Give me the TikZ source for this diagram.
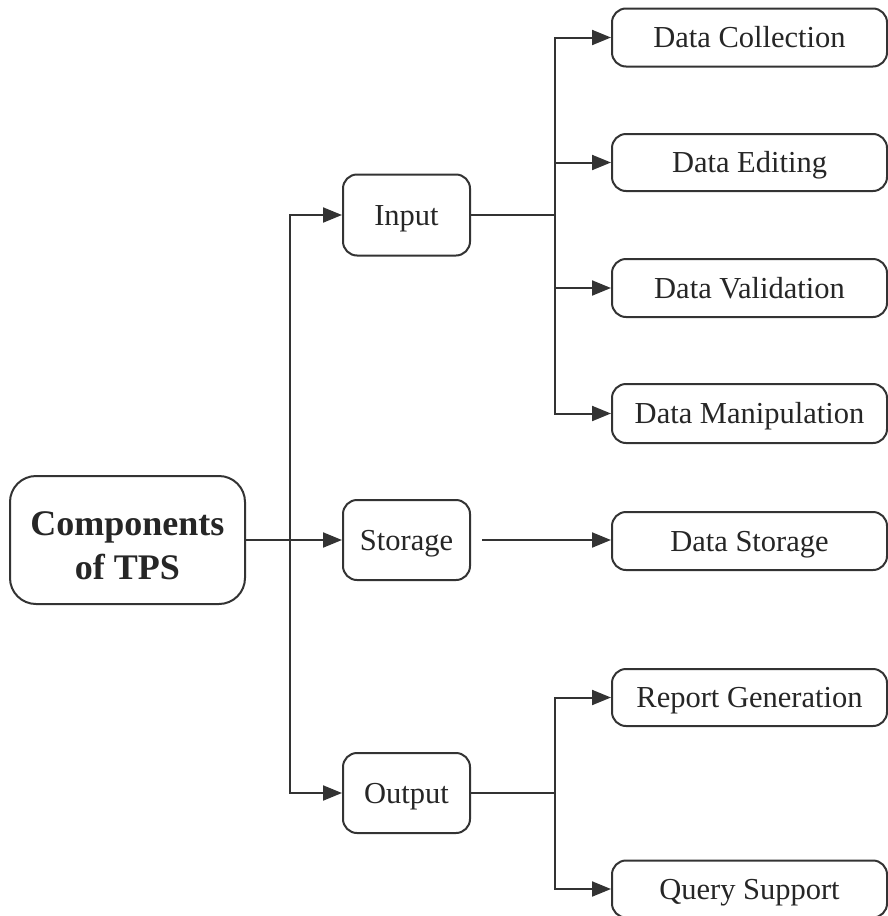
\documentclass[tikz,border=0pt]{standalone}
\usepackage{fontspec}
\setmainfont{Liberation Serif}
\usetikzlibrary{arrows.meta}
\begin{document}
\begin{tikzpicture}[x=1pt,y=-1pt,
  box/.style={draw=black!80, line width=2pt, rounded corners=14pt, fill=white,
    inner sep=0pt, font=\fontsize{30.5}{36}\selectfont, text=black!85,
    text height=20.3pt, text depth=0pt},
  mainbox/.style={box, rounded corners=26pt, font=\bfseries\fontsize{36}{44}\selectfont,
    align=center, text height=78pt, text depth=0pt},
  conn/.style={draw=black!80, line width=2pt},
  arr/.style={conn, -{Triangle[length=19pt,width=15pt]}}
]
\useasboundingbox (0,0) rectangle (888,916);
\begin{scope}
\clip (0,0) rectangle (888,916);
% main
\node[mainbox, minimum width=235pt, minimum height=128pt] (tps) at (127.5,540) {Components\\of TPS};
% middle
\node[box, minimum width=127pt, minimum height=81pt] (in) at (406.5,215) {Input};
\node[box, minimum width=127pt, minimum height=80pt] (st) at (406.5,540) {Storage};
\node[box, minimum width=127pt, minimum height=80pt] (out) at (406.5,793) {Output};
% right
\node[box, minimum width=275pt, minimum height=58pt] (dc) at (749.5,37.5) {Data Collection};
\node[box, minimum width=275pt, minimum height=57pt] (de) at (749.5,162.5) {Data Editing};
\node[box, minimum width=275pt, minimum height=58pt] (dv) at (749.5,288) {Data Validation};
\node[box, minimum width=275pt, minimum height=59pt] (dm) at (749.5,413.5) {Data Manipulation};
\node[box, minimum width=275pt, minimum height=58pt] (ds) at (749.5,541) {Data Storage};
\node[box, minimum width=275pt, minimum height=57pt] (rg) at (749.5,697.5) {Report Generation};
\node[box, minimum width=275pt, minimum height=57pt] (qs) at (749.5,889) {Query Support};
% trunk 1
\coordinate (t1) at (290,540);
\draw[conn] (tps.east) -- (t1);
\draw[arr] (t1) |- (in.west);
\draw[arr] (t1) -- (st.west);
\draw[arr] (t1) |- (out.west);
% trunk input
\coordinate (t2) at (555,215);
\draw[conn] (in.east) -- (t2);
\draw[arr] (t2) |- (dc.west);
\draw[arr] (t2) |- (de.west);
\draw[arr] (t2) |- (dv.west);
\draw[arr] (t2) |- (dm.west);
% storage
\coordinate (s1) at (482,540);
\draw[arr] (s1) -- (s1 -| ds.west);
% trunk output
\coordinate (t3) at (555,793);
\draw[conn] (out.east) -- (t3);
\draw[arr] (t3) |- (rg.west);
\draw[arr] (t3) |- (qs.west);
\end{scope}
\end{tikzpicture}
\end{document}
